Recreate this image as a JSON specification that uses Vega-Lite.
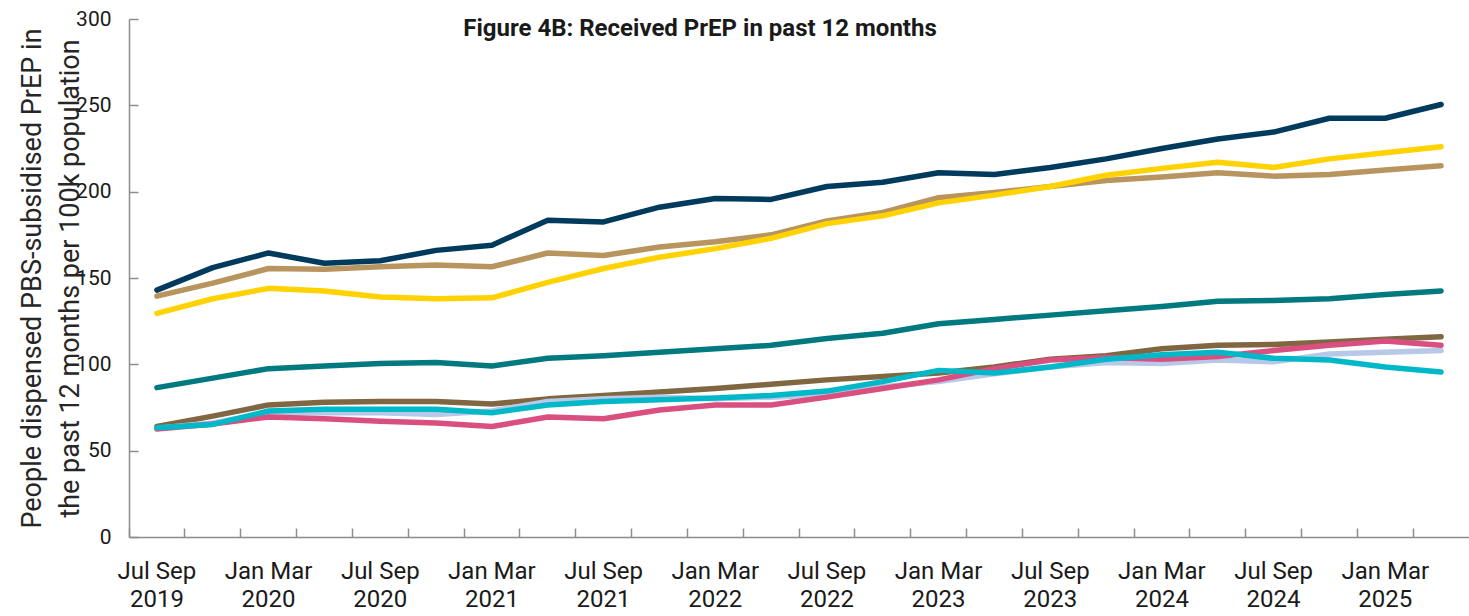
{
  "$schema": "https://vega.github.io/schema/vega-lite/v6.json",
  "width": 1340,
  "height": 518,
  "autosize": "none",
  "padding": {"left": 129, "top": 19, "right": 0, "bottom": 79},
  "background": "white",
  "title": {"text": "Figure 4B: Received PrEP in past 12 months", "font": "Roboto", "fontWeight": "bold", "fontSize": 24, "color": "#1a1a1a", "anchor": "middle", "dx": -99, "offset": -33},
  "config": {"view": {"stroke": null}},
  "data": {"values": [
    {"series": "NSW", "quarter": "Jul Sep 2019", "value": 143},
    {"series": "NSW", "quarter": "Oct Dec 2019", "value": 156},
    {"series": "NSW", "quarter": "Jan Mar 2020", "value": 164.5},
    {"series": "NSW", "quarter": "Apr Jun 2020", "value": 158.5},
    {"series": "NSW", "quarter": "Jul Sep 2020", "value": 160},
    {"series": "NSW", "quarter": "Oct Dec 2020", "value": 166},
    {"series": "NSW", "quarter": "Jan Mar 2021", "value": 169},
    {"series": "NSW", "quarter": "Apr Jun 2021", "value": 183.5},
    {"series": "NSW", "quarter": "Jul Sep 2021", "value": 182.5},
    {"series": "NSW", "quarter": "Oct Dec 2021", "value": 191},
    {"series": "NSW", "quarter": "Jan Mar 2022", "value": 196},
    {"series": "NSW", "quarter": "Apr Jun 2022", "value": 195.5},
    {"series": "NSW", "quarter": "Jul Sep 2022", "value": 203},
    {"series": "NSW", "quarter": "Oct Dec 2022", "value": 205.5},
    {"series": "NSW", "quarter": "Jan Mar 2023", "value": 211},
    {"series": "NSW", "quarter": "Apr Jun 2023", "value": 210},
    {"series": "NSW", "quarter": "Jul Sep 2023", "value": 214},
    {"series": "NSW", "quarter": "Oct Dec 2023", "value": 219},
    {"series": "NSW", "quarter": "Jan Mar 2024", "value": 225},
    {"series": "NSW", "quarter": "Apr Jun 2024", "value": 230.5},
    {"series": "NSW", "quarter": "Jul Sep 2024", "value": 234.5},
    {"series": "NSW", "quarter": "Oct Dec 2024", "value": 242.5},
    {"series": "NSW", "quarter": "Jan Mar 2025", "value": 242.5},
    {"series": "NSW", "quarter": "Apr Jun 2025", "value": 250.5},

    {"series": "ACT", "quarter": "Jul Sep 2019", "value": 139.5},
    {"series": "ACT", "quarter": "Oct Dec 2019", "value": 147},
    {"series": "ACT", "quarter": "Jan Mar 2020", "value": 155.5},
    {"series": "ACT", "quarter": "Apr Jun 2020", "value": 155},
    {"series": "ACT", "quarter": "Jul Sep 2020", "value": 156.5},
    {"series": "ACT", "quarter": "Oct Dec 2020", "value": 157.5},
    {"series": "ACT", "quarter": "Jan Mar 2021", "value": 156.5},
    {"series": "ACT", "quarter": "Apr Jun 2021", "value": 164.5},
    {"series": "ACT", "quarter": "Jul Sep 2021", "value": 163},
    {"series": "ACT", "quarter": "Oct Dec 2021", "value": 168},
    {"series": "ACT", "quarter": "Jan Mar 2022", "value": 171},
    {"series": "ACT", "quarter": "Apr Jun 2022", "value": 175},
    {"series": "ACT", "quarter": "Jul Sep 2022", "value": 183},
    {"series": "ACT", "quarter": "Oct Dec 2022", "value": 188},
    {"series": "ACT", "quarter": "Jan Mar 2023", "value": 196.5},
    {"series": "ACT", "quarter": "Apr Jun 2023", "value": 199.5},
    {"series": "ACT", "quarter": "Jul Sep 2023", "value": 203},
    {"series": "ACT", "quarter": "Oct Dec 2023", "value": 206.5},
    {"series": "ACT", "quarter": "Jan Mar 2024", "value": 208.5},
    {"series": "ACT", "quarter": "Apr Jun 2024", "value": 211},
    {"series": "ACT", "quarter": "Jul Sep 2024", "value": 209},
    {"series": "ACT", "quarter": "Oct Dec 2024", "value": 210},
    {"series": "ACT", "quarter": "Jan Mar 2025", "value": 212.5},
    {"series": "ACT", "quarter": "Apr Jun 2025", "value": 215},

    {"series": "VIC", "quarter": "Jul Sep 2019", "value": 129.5},
    {"series": "VIC", "quarter": "Oct Dec 2019", "value": 138},
    {"series": "VIC", "quarter": "Jan Mar 2020", "value": 144},
    {"series": "VIC", "quarter": "Apr Jun 2020", "value": 142.5},
    {"series": "VIC", "quarter": "Jul Sep 2020", "value": 139},
    {"series": "VIC", "quarter": "Oct Dec 2020", "value": 138},
    {"series": "VIC", "quarter": "Jan Mar 2021", "value": 138.5},
    {"series": "VIC", "quarter": "Apr Jun 2021", "value": 147.5},
    {"series": "VIC", "quarter": "Jul Sep 2021", "value": 155.5},
    {"series": "VIC", "quarter": "Oct Dec 2021", "value": 162},
    {"series": "VIC", "quarter": "Jan Mar 2022", "value": 167},
    {"series": "VIC", "quarter": "Apr Jun 2022", "value": 173},
    {"series": "VIC", "quarter": "Jul Sep 2022", "value": 181.5},
    {"series": "VIC", "quarter": "Oct Dec 2022", "value": 186},
    {"series": "VIC", "quarter": "Jan Mar 2023", "value": 193.5},
    {"series": "VIC", "quarter": "Apr Jun 2023", "value": 198},
    {"series": "VIC", "quarter": "Jul Sep 2023", "value": 203},
    {"series": "VIC", "quarter": "Oct Dec 2023", "value": 209.5},
    {"series": "VIC", "quarter": "Jan Mar 2024", "value": 213.5},
    {"series": "VIC", "quarter": "Apr Jun 2024", "value": 217},
    {"series": "VIC", "quarter": "Jul Sep 2024", "value": 214},
    {"series": "VIC", "quarter": "Oct Dec 2024", "value": 219},
    {"series": "VIC", "quarter": "Jan Mar 2025", "value": 222.5},
    {"series": "VIC", "quarter": "Apr Jun 2025", "value": 226},

    {"series": "QLD", "quarter": "Jul Sep 2019", "value": 86.5},
    {"series": "QLD", "quarter": "Oct Dec 2019", "value": 92},
    {"series": "QLD", "quarter": "Jan Mar 2020", "value": 97.5},
    {"series": "QLD", "quarter": "Apr Jun 2020", "value": 99},
    {"series": "QLD", "quarter": "Jul Sep 2020", "value": 100.5},
    {"series": "QLD", "quarter": "Oct Dec 2020", "value": 101},
    {"series": "QLD", "quarter": "Jan Mar 2021", "value": 99},
    {"series": "QLD", "quarter": "Apr Jun 2021", "value": 103.5},
    {"series": "QLD", "quarter": "Jul Sep 2021", "value": 105},
    {"series": "QLD", "quarter": "Oct Dec 2021", "value": 107},
    {"series": "QLD", "quarter": "Jan Mar 2022", "value": 109},
    {"series": "QLD", "quarter": "Apr Jun 2022", "value": 111},
    {"series": "QLD", "quarter": "Jul Sep 2022", "value": 115},
    {"series": "QLD", "quarter": "Oct Dec 2022", "value": 118},
    {"series": "QLD", "quarter": "Jan Mar 2023", "value": 123.5},
    {"series": "QLD", "quarter": "Apr Jun 2023", "value": 126},
    {"series": "QLD", "quarter": "Jul Sep 2023", "value": 128.5},
    {"series": "QLD", "quarter": "Oct Dec 2023", "value": 131},
    {"series": "QLD", "quarter": "Jan Mar 2024", "value": 133.5},
    {"series": "QLD", "quarter": "Apr Jun 2024", "value": 136.5},
    {"series": "QLD", "quarter": "Jul Sep 2024", "value": 137},
    {"series": "QLD", "quarter": "Oct Dec 2024", "value": 138},
    {"series": "QLD", "quarter": "Jan Mar 2025", "value": 140.5},
    {"series": "QLD", "quarter": "Apr Jun 2025", "value": 142.5},

    {"series": "WA", "quarter": "Jul Sep 2019", "value": 64},
    {"series": "WA", "quarter": "Oct Dec 2019", "value": 70},
    {"series": "WA", "quarter": "Jan Mar 2020", "value": 76.5},
    {"series": "WA", "quarter": "Apr Jun 2020", "value": 78},
    {"series": "WA", "quarter": "Jul Sep 2020", "value": 78.5},
    {"series": "WA", "quarter": "Oct Dec 2020", "value": 78.5},
    {"series": "WA", "quarter": "Jan Mar 2021", "value": 77},
    {"series": "WA", "quarter": "Apr Jun 2021", "value": 80},
    {"series": "WA", "quarter": "Jul Sep 2021", "value": 82},
    {"series": "WA", "quarter": "Oct Dec 2021", "value": 84},
    {"series": "WA", "quarter": "Jan Mar 2022", "value": 86},
    {"series": "WA", "quarter": "Apr Jun 2022", "value": 88.5},
    {"series": "WA", "quarter": "Jul Sep 2022", "value": 91},
    {"series": "WA", "quarter": "Oct Dec 2022", "value": 93},
    {"series": "WA", "quarter": "Jan Mar 2023", "value": 95},
    {"series": "WA", "quarter": "Apr Jun 2023", "value": 98.5},
    {"series": "WA", "quarter": "Jul Sep 2023", "value": 103},
    {"series": "WA", "quarter": "Oct Dec 2023", "value": 105},
    {"series": "WA", "quarter": "Jan Mar 2024", "value": 109},
    {"series": "WA", "quarter": "Apr Jun 2024", "value": 111},
    {"series": "WA", "quarter": "Jul Sep 2024", "value": 111.5},
    {"series": "WA", "quarter": "Oct Dec 2024", "value": 113},
    {"series": "WA", "quarter": "Jan Mar 2025", "value": 114.5},
    {"series": "WA", "quarter": "Apr Jun 2025", "value": 116},

    {"series": "TAS", "quarter": "Jul Sep 2019", "value": 63},
    {"series": "TAS", "quarter": "Oct Dec 2019", "value": 66},
    {"series": "TAS", "quarter": "Jan Mar 2020", "value": 72},
    {"series": "TAS", "quarter": "Apr Jun 2020", "value": 72},
    {"series": "TAS", "quarter": "Jul Sep 2020", "value": 72},
    {"series": "TAS", "quarter": "Oct Dec 2020", "value": 71},
    {"series": "TAS", "quarter": "Jan Mar 2021", "value": 73},
    {"series": "TAS", "quarter": "Apr Jun 2021", "value": 78.5},
    {"series": "TAS", "quarter": "Jul Sep 2021", "value": 80},
    {"series": "TAS", "quarter": "Oct Dec 2021", "value": 81},
    {"series": "TAS", "quarter": "Jan Mar 2022", "value": 80},
    {"series": "TAS", "quarter": "Apr Jun 2022", "value": 81},
    {"series": "TAS", "quarter": "Jul Sep 2022", "value": 82.5},
    {"series": "TAS", "quarter": "Oct Dec 2022", "value": 87},
    {"series": "TAS", "quarter": "Jan Mar 2023", "value": 90},
    {"series": "TAS", "quarter": "Apr Jun 2023", "value": 94.5},
    {"series": "TAS", "quarter": "Jul Sep 2023", "value": 98.5},
    {"series": "TAS", "quarter": "Oct Dec 2023", "value": 101},
    {"series": "TAS", "quarter": "Jan Mar 2024", "value": 100.5},
    {"series": "TAS", "quarter": "Apr Jun 2024", "value": 102.5},
    {"series": "TAS", "quarter": "Jul Sep 2024", "value": 101.5},
    {"series": "TAS", "quarter": "Oct Dec 2024", "value": 106},
    {"series": "TAS", "quarter": "Jan Mar 2025", "value": 107},
    {"series": "TAS", "quarter": "Apr Jun 2025", "value": 108},

    {"series": "SA", "quarter": "Jul Sep 2019", "value": 62.5},
    {"series": "SA", "quarter": "Oct Dec 2019", "value": 65.5},
    {"series": "SA", "quarter": "Jan Mar 2020", "value": 69.5},
    {"series": "SA", "quarter": "Apr Jun 2020", "value": 68.5},
    {"series": "SA", "quarter": "Jul Sep 2020", "value": 67},
    {"series": "SA", "quarter": "Oct Dec 2020", "value": 66},
    {"series": "SA", "quarter": "Jan Mar 2021", "value": 64},
    {"series": "SA", "quarter": "Apr Jun 2021", "value": 69.5},
    {"series": "SA", "quarter": "Jul Sep 2021", "value": 68.5},
    {"series": "SA", "quarter": "Oct Dec 2021", "value": 73.5},
    {"series": "SA", "quarter": "Jan Mar 2022", "value": 76.5},
    {"series": "SA", "quarter": "Apr Jun 2022", "value": 76.5},
    {"series": "SA", "quarter": "Jul Sep 2022", "value": 81},
    {"series": "SA", "quarter": "Oct Dec 2022", "value": 86},
    {"series": "SA", "quarter": "Jan Mar 2023", "value": 91},
    {"series": "SA", "quarter": "Apr Jun 2023", "value": 97.5},
    {"series": "SA", "quarter": "Jul Sep 2023", "value": 102.5},
    {"series": "SA", "quarter": "Oct Dec 2023", "value": 104},
    {"series": "SA", "quarter": "Jan Mar 2024", "value": 103},
    {"series": "SA", "quarter": "Apr Jun 2024", "value": 104.5},
    {"series": "SA", "quarter": "Jul Sep 2024", "value": 108},
    {"series": "SA", "quarter": "Oct Dec 2024", "value": 111},
    {"series": "SA", "quarter": "Jan Mar 2025", "value": 113.5},
    {"series": "SA", "quarter": "Apr Jun 2025", "value": 111},

    {"series": "NT", "quarter": "Jul Sep 2019", "value": 63.3},
    {"series": "NT", "quarter": "Oct Dec 2019", "value": 65.2},
    {"series": "NT", "quarter": "Jan Mar 2020", "value": 73},
    {"series": "NT", "quarter": "Apr Jun 2020", "value": 74},
    {"series": "NT", "quarter": "Jul Sep 2020", "value": 74},
    {"series": "NT", "quarter": "Oct Dec 2020", "value": 74},
    {"series": "NT", "quarter": "Jan Mar 2021", "value": 72},
    {"series": "NT", "quarter": "Apr Jun 2021", "value": 76.5},
    {"series": "NT", "quarter": "Jul Sep 2021", "value": 78.5},
    {"series": "NT", "quarter": "Oct Dec 2021", "value": 79.5},
    {"series": "NT", "quarter": "Jan Mar 2022", "value": 80.5},
    {"series": "NT", "quarter": "Apr Jun 2022", "value": 82},
    {"series": "NT", "quarter": "Jul Sep 2022", "value": 84.5},
    {"series": "NT", "quarter": "Oct Dec 2022", "value": 90},
    {"series": "NT", "quarter": "Jan Mar 2023", "value": 96.5},
    {"series": "NT", "quarter": "Apr Jun 2023", "value": 95},
    {"series": "NT", "quarter": "Jul Sep 2023", "value": 98.5},
    {"series": "NT", "quarter": "Oct Dec 2023", "value": 103},
    {"series": "NT", "quarter": "Jan Mar 2024", "value": 105.5},
    {"series": "NT", "quarter": "Apr Jun 2024", "value": 107},
    {"series": "NT", "quarter": "Jul Sep 2024", "value": 103.5},
    {"series": "NT", "quarter": "Oct Dec 2024", "value": 102.5},
    {"series": "NT", "quarter": "Jan Mar 2025", "value": 98.5},
    {"series": "NT", "quarter": "Apr Jun 2025", "value": 95.5}
  ]},
  "mark": {"type": "line", "strokeWidth": 5.5, "strokeCap": "round", "strokeJoin": "round"},
  "encoding": {
    "x": {
      "field": "quarter", "type": "ordinal", "sort": null,
      "scale": {"type": "band", "paddingInner": 0, "paddingOuter": 0},
      "axis": {
        "title": null,
        "bandPosition": 0,
        "labelOffset": 0,
        "labelAngle": 0,
        "labelOverlap": false,
        "labelExpr": "test(/^(Jul|Jan)/, datum.label) ? [substring(datum.label, 0, 7), substring(datum.label, 8)] : ''",
        "labelFont": "Roboto",
        "labelFontSize": 24,
        "labelColor": "#1a1a1a",
        "labelLineHeight": 28,
        "labelPadding": 31,
        "labelBaseline": "top",
        "tickSize": -9,
        "tickColor": "#8c8c8c",
        "tickWidth": 1.5,
        "domainColor": "#8c8c8c",
        "domainWidth": 1.5,
        "grid": false
      }
    },
    "y": {
      "field": "value", "type": "quantitative",
      "scale": {"domain": [0, 300], "nice": false},
      "axis": {
        "title": ["People dispensed PBS-subsidised PrEP in", "the past 12 months per 100k population"],
        "titleFont": "Roboto",
        "titleFontSize": 27,
        "titleFontWeight": "normal",
        "titleColor": "#262626",
        "titleLineHeight": 38,
        "titlePadding": -9,
        "values": [0, 50, 100, 150, 200, 250, 300],
        "labelFont": "Roboto",
        "labelFontSize": 21,
        "labelColor": "#1a1a1a",
        "labelPadding": 27,
        "tickSize": -9,
        "tickColor": "#8c8c8c",
        "tickWidth": 1.5,
        "domainColor": "#8c8c8c",
        "domainWidth": 1.5,
        "grid": false
      }
    },
    "color": {
      "field": "series", "type": "nominal", "sort": null,
      "scale": {
        "domain": ["NSW", "ACT", "VIC", "QLD", "WA", "TAS", "SA", "NT"],
        "range": ["#003a5d", "#b8955f", "#ffd200", "#007a7f", "#806641", "#b7c8e8", "#d94f80", "#00b8c8"]
      },
      "legend": null
    }
  }
}
